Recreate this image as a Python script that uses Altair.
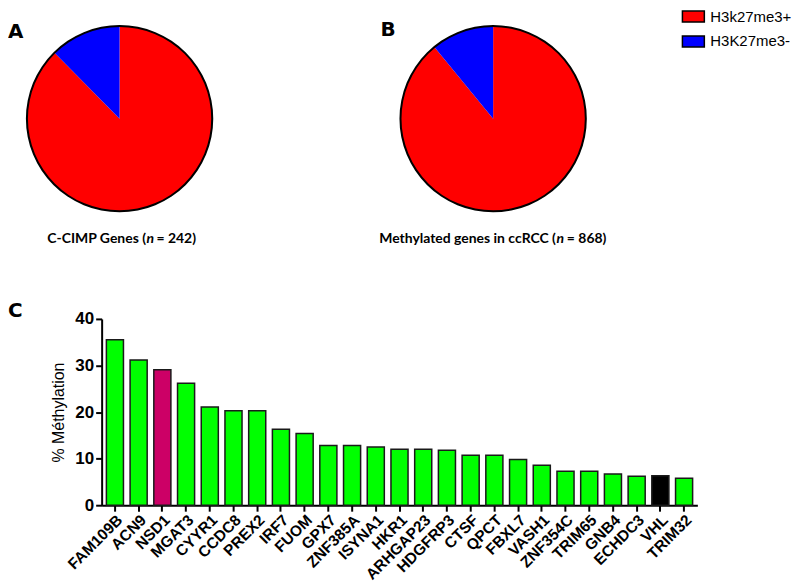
import altair as alt
import pandas as pd

# ---------------- data ----------------
pie_labels = ["H3k27me3+", "H3K27me3-"]
pie_colors = ["#FF0000", "#0000FF"]
pie_a_counts = [212, 30]     # C-CIMP genes, n = 242
pie_b_counts = [773, 95]     # methylated genes in ccRCC, n = 868

genes = ["FAM109B", "ACN9", "NSD1", "MGAT3", "CYYR1", "CCDC8", "PREX2", "IRF7",
         "FUOM", "GPX7", "ZNF385A", "ISYNA1", "HKR1", "ARHGAP23", "HDGFRP3",
         "CTSF", "QPCT", "FBXL7", "VASH1", "ZNF354C", "TRIM65", "GNB4",
         "ECHDC3", "VHL", "TRIM32"]
methylation = [35.5, 31.2, 29.1, 26.2, 21.1, 20.3, 20.3, 16.3, 15.4, 12.8,
               12.8, 12.5, 12.0, 12.0, 11.8, 10.7, 10.7, 9.8, 8.6, 7.3,
               7.3, 6.7, 6.2, 6.3, 5.8]
bar_colors = ["#00FF00", "#00FF00", "#CC0066"] + ["#00FF00"] * 20 + ["#000000", "#00FF00"]
y_ticks = [0, 10, 20, 30, 40]

pie_a = pd.DataFrame({"status": pie_labels, "count": pie_a_counts, "k": [0, 1]})
pie_b = pd.DataFrame({"status": pie_labels, "count": pie_b_counts, "k": [0, 1]})
bars = pd.DataFrame({"gene": genes, "value": methylation, "col": bar_colors})

R = 93
color_enc = alt.Color(
    "status:N",
    scale=alt.Scale(domain=pie_labels, range=pie_colors),
    legend=alt.Legend(
        title=None, orient="none", legendX=586.5, legendY=0,
        symbolType="M-2,-1H2V1H-2Z", symbolSize=121,
        symbolStrokeColor="black", symbolStrokeWidth=1.5, symbolOpacity=1,
        labelFont="Liberation Sans", labelFontSize=15, labelColor="black",
        labelOffset=9.5, rowPadding=8, padding=0,
    ),
)


def pie(df, cx, cy):
    base = alt.Chart(df)
    arc = base.mark_arc(radius=R, stroke=None).encode(
        theta=alt.Theta("count:Q", stack=True),
        color=color_enc,
        order=alt.Order("k:Q"),
        x=alt.value(cx), y=alt.value(cy),
    )
    ring = base.transform_aggregate(total="sum(count)").mark_arc(
        radius=R + 1, radius2=R - 1, fill="black", stroke=None
    ).encode(theta=alt.Theta("total:Q"), x=alt.value(cx), y=alt.value(cy))
    return arc, ring


# row-1 coordinates are relative to the bar chart's plot origin (x) / page top (y)
arcA, ringA = pie(pie_a, 18, 110)
arcB, ringB = pie(pie_b, 393, 110)

txt = pd.DataFrame({"t": ["x"]})
def label(text, x, y, size, weight="bold", font="DejaVu Sans", align="left", style="normal"):
    return alt.Chart(txt).mark_text(
        text=text, font=font, fontSize=size, fontWeight=weight, fontStyle=style,
        align=align, baseline="alphabetic", color="black"
    ).encode(x=alt.value(x), y=alt.value(y))

cap_font = "Lato"
row1 = alt.layer(
    arcA, ringA, arcB, ringB,
    label("A", -94, 29, 20),
    label("B", 280, 27, 20),
    label("C-CIMP Genes (", 44.5, 235, 14, font=cap_font, align="right"),
    label("n", 45, 235, 14, font=cap_font, style="italic"),
    label("= 242)", 55, 235, 14, font=cap_font),
    label("Methylated genes in ccRCC (", 456, 235, 14, font=cap_font, align="right"),
    label("n", 456.5, 235, 14, font=cap_font, style="italic"),
    label("= 868)", 467, 235, 14, font=cap_font),
).resolve_scale(theta="independent").properties(width=598, height=293)

bar = alt.Chart(bars).mark_bar(stroke="#1a1a1a", strokeWidth=1.5).encode(
    x=alt.X("gene:N", sort=genes,
            scale=alt.Scale(paddingInner=0.28, paddingOuter=0.2),
            axis=alt.Axis(title=None, labelAngle=-45, labelAlign="right",
                          labelBaseline="top", labelFont="Liberation Sans",
                          labelFontSize=15.5, labelFontWeight="bold",
                          labelColor="black", labelPadding=1,
                          domainColor="black", domainWidth=2,
                          tickColor="black", tickWidth=2, tickSize=6,
                          labelOverlap=False)),
    y=alt.Y("value:Q", scale=alt.Scale(domain=[0, 40]),
            axis=alt.Axis(values=y_ticks, title="% Méthylation", grid=False,
                          titleFont="Liberation Sans", titleFontSize=16,
                          titleFontWeight="normal", titleColor="black",
                          titlePadding=8,
                          labelFont="Liberation Sans", labelFontSize=17,
                          labelFontWeight="bold", labelColor="black",
                          domainColor="black", domainWidth=2,
                          tickColor="black", tickWidth=2, tickSize=6,
                          labelPadding=2)),
    fill=alt.Fill("col:N", scale=None),
)
row2 = alt.layer(
    bar,
    label("C", -94, -2, 20),
).properties(width=598, height=187)

chart = alt.vconcat(row1, row2, spacing=0).properties(padding=0).configure_view(stroke=None)

chart.save("out.html", embed_options={"renderer": "svg", "actions": False})
